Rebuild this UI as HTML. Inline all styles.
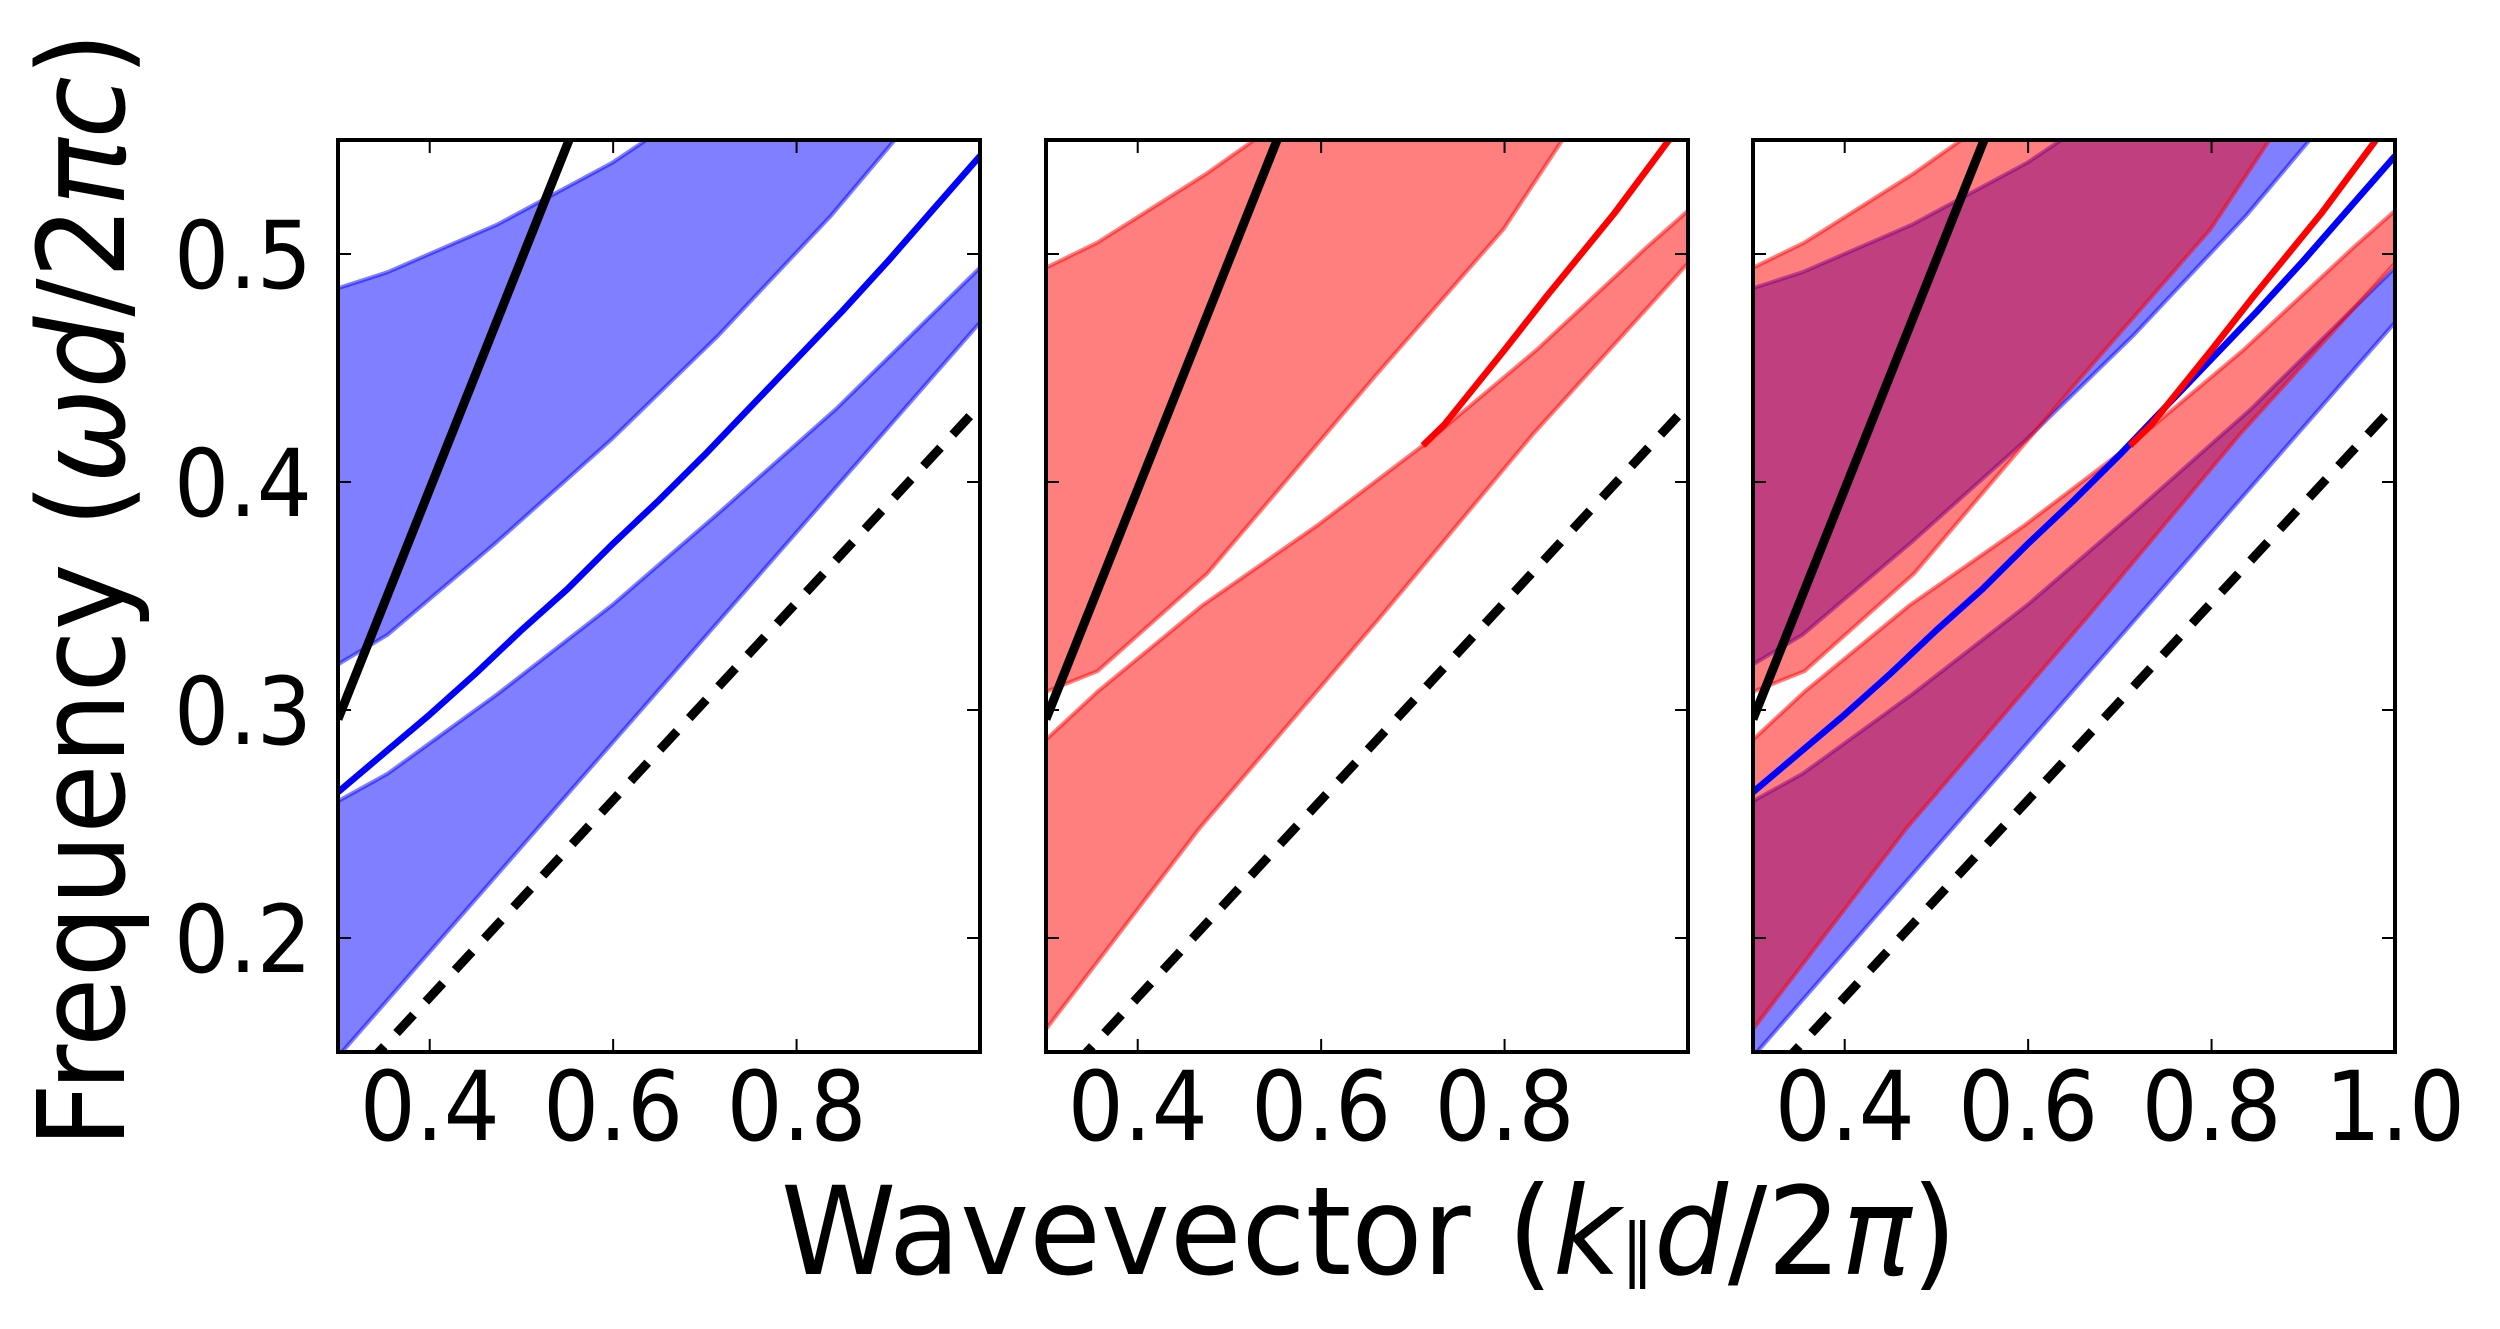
<!DOCTYPE html>
<html><head><meta charset="utf-8"><style>
html,body{margin:0;padding:0;background:#fff;}
svg{display:block;}
text{font-family:"DejaVu Sans","Liberation Sans",sans-serif;fill:#000;}
</style></head><body>
<svg id="chart" width="2500" height="1329" viewBox="0 0 2500 1329" xmlns="http://www.w3.org/2000/svg">
<g id="layer"></g>
</svg>
<script>
// ---- data (wavevector k, frequency w) ----
const xTicks = [0.4, 0.6, 0.8];
const yTicks = [0.2, 0.3, 0.4, 0.5];
const yTickLabels = ["0.2", "0.3", "0.4", "0.5"];
const lightLineK = [0.30, 0.552];
const lightLineW = [0.296, 0.55];
const dashedK = [0.30, 1.0];
const dashedW = [0.1307, 0.4337];
const blueCurveK = [0.30, 0.35, 0.40, 0.45, 0.50, 0.55, 0.60, 0.65, 0.70, 0.75, 0.80, 0.85, 0.90, 0.95, 1.0];
const blueCurveW = [0.264, 0.281, 0.298, 0.316, 0.335, 0.353, 0.373, 0.392, 0.412, 0.433, 0.454, 0.475, 0.497, 0.520, 0.543];
const redCurveK = [0.711, 0.734, 0.80, 0.845, 0.92, 0.983];
const redCurveW = [0.416, 0.425, 0.458, 0.481, 0.518, 0.552];
// blue upper band
const bUpTopK = [0.30, 0.354, 0.474, 0.599, 0.636, 1.0];
const bUpTopW = [0.485, 0.492, 0.513, 0.54, 0.55, 0.55];
const bUpBotK = [0.30, 0.354, 0.474, 0.599, 0.714, 0.838, 0.907];
const bUpBotW = [0.32, 0.333, 0.374, 0.419, 0.464, 0.517, 0.55];
// blue lower band
const bLoTopK = [0.30, 0.354, 0.474, 0.599, 0.714, 0.843, 1.0];
const bLoTopW = [0.26, 0.272, 0.307, 0.346, 0.386, 0.432, 0.494];
const bLoBotK = [0.30, 1.0];
const bLoBotW = [0.148, 0.47];
// red upper band
const rUpTopK = [0.30, 0.356, 0.474, 0.527, 1.0];
const rUpTopW = [0.494, 0.505, 0.535, 0.55, 0.55];
const rUpBotK = [0.30, 0.356, 0.476, 0.660, 0.799, 0.863];
const rUpBotW = [0.308, 0.317, 0.36, 0.447, 0.511, 0.55];
// red lower band
const rLoTopK = [0.30, 0.356, 0.471, 0.596, 0.711, 0.835, 0.955, 1.0];
const rLoTopW = [0.287, 0.308, 0.346, 0.381, 0.416, 0.458, 0.503, 0.519];
const rLoBotK = [0.30, 0.467, 0.665, 0.831, 1.0];
const rLoBotW = [0.16, 0.248, 0.341, 0.421, 0.496];

const NS = "http://www.w3.org/2000/svg";
const layer = document.getElementById('layer');
const panelsX = [338, 1046, 1753];
const PW = 642, PT = 140, PB = 1052;
const X0 = 0.3, X1 = 1.0, Y0 = 0.15, Y1 = 0.55;

function el(tag, attrs, parent) {
  const e = document.createElementNS(NS, tag);
  for (const k in attrs) e.setAttribute(k, attrs[k]);
  (parent || layer).appendChild(e);
  return e;
}
function sx(px, k) { return px + (k - X0) / (X1 - X0) * PW; }
function sy(w) { return PB - (w - Y0) / (Y1 - Y0) * (PB - PT); }
function pts(px, ks, ws) { return ks.map((k, i) => sx(px, k).toFixed(1) + ',' + sy(ws[i]).toFixed(1)); }
function band(g, px, topK, topW, botK, botW, color, name) {
  const p = pts(px, topK, topW).concat(pts(px, botK, botW).reverse());
  const poly = el('polygon', {points: p.join(' '), fill: color, 'fill-opacity': 0.5, stroke: color, 'stroke-opacity': 0.5, 'stroke-width': 4, 'stroke-linejoin': 'round'}, g);
  
  
}
function line(g, px, ks, ws, color, w, dash, name) {
  const a = {points: pts(px, ks, ws).join(' '), fill: 'none', stroke: color, 'stroke-width': w, 'stroke-linejoin': 'round'};
  if (dash) a['stroke-dasharray'] = dash;
  const l = el('polyline', a, g);
  
  
}

panelsX.forEach((px, idx) => {
  const cp = el('clipPath', {id: 'clip' + idx});
  el('rect', {x: px, y: PT, width: PW, height: PB - PT}, cp);
  const g = el('g', {'clip-path': 'url(#clip' + idx + ')'});
  
  
  const showBlue = idx === 0 || idx === 2;
  const showRed = idx === 1 || idx === 2;
  if (showBlue) {
    band(g, px, bUpTopK, bUpTopW, bUpBotK, bUpBotW, '#0000ff', 'blue-upper-band');
    band(g, px, bLoTopK, bLoTopW, bLoBotK, bLoBotW, '#0000ff', 'blue-lower-band');
  }
  if (showRed) {
    band(g, px, rUpTopK, rUpTopW, rUpBotK, rUpBotW, '#ff0000', 'red-upper-band');
    band(g, px, rLoTopK, rLoTopW, rLoBotK, rLoBotW, '#ff0000', 'red-lower-band');
  }
  line(g, px, lightLineK, lightLineW, '#000', 9, null, 'light-line');
  line(g, px, dashedK, dashedW, '#000', 9, '25,18', 'dashed-light-line');
  if (showBlue) line(g, px, blueCurveK, blueCurveW, '#0000ff', 6.5, null, 'blue-mode-curve');
  if (showRed) line(g, px, redCurveK, redCurveW, '#ff0000', 6.5, null, 'red-mode-curve');

  xTicks.forEach(t => {
    const x = sx(px, t);
    el('line', {x1: x, x2: x, y1: PB, y2: PB - 13, stroke: '#000', 'stroke-width': 2});
    el('line', {x1: x, x2: x, y1: PT, y2: PT + 13, stroke: '#000', 'stroke-width': 2});
    const tl = el('text', {x: x, y: 1140, 'font-size': 96, 'text-anchor': 'middle', textLength: 140, lengthAdjust: 'spacingAndGlyphs'});
    tl.textContent = t.toFixed(1);
    
    
  });
  if (idx === 2) {
    const tl = el('text', {x: sx(px, 1.0), y: 1140, 'font-size': 96, 'text-anchor': 'middle', textLength: 140, lengthAdjust: 'spacingAndGlyphs'});
    tl.textContent = '1.0';
    
    
  }
  yTicks.forEach((t, i) => {
    const y = sy(t);
    el('line', {x1: px, x2: px + 13, y1: y, y2: y, stroke: '#000', 'stroke-width': 2});
    el('line', {x1: px + PW, x2: px + PW - 13, y1: y, y2: y, stroke: '#000', 'stroke-width': 2});
    if (idx === 0) {
      const tl = el('text', {x: 312, y: y + 34, 'font-size': 94, 'text-anchor': 'end', textLength: 138, lengthAdjust: 'spacingAndGlyphs'});
      tl.textContent = yTickLabels[i];
      
      
    }
  });
  const fr = el('rect', {x: px, y: PT, width: PW, height: PB - PT, fill: 'none', stroke: '#000', 'stroke-width': 4});
  
  
});
</script>
<script>
(function(){
  const svg = document.getElementById('chart');
  const NS = "http://www.w3.org/2000/svg";
  const xl = document.createElementNS(NS, 'text');
  xl.setAttribute('x', 781); xl.setAttribute('y', 1274);
  xl.setAttribute('font-size', 122);
  xl.setAttribute('textLength', 1176);
  xl.setAttribute('lengthAdjust', 'spacingAndGlyphs');
  xl.innerHTML = 'Wavevector (<tspan font-style="italic">k</tspan><tspan font-size="70">∥</tspan><tspan font-style="italic">d</tspan>/2<tspan font-style="italic">π</tspan>)';
  
  
  svg.appendChild(xl);
  const yl = document.createElementNS(NS, 'text');
  yl.setAttribute('transform', 'translate(124,1148) rotate(-90)');
  yl.setAttribute('font-size', 120);
  yl.setAttribute('textLength', 1116);
  yl.setAttribute('lengthAdjust', 'spacingAndGlyphs');
  yl.innerHTML = 'Frequency (<tspan font-style="italic">ωd</tspan>/2<tspan font-style="italic">πc</tspan>)';
  
  
  svg.appendChild(yl);
})();
</script>
</body></html>
